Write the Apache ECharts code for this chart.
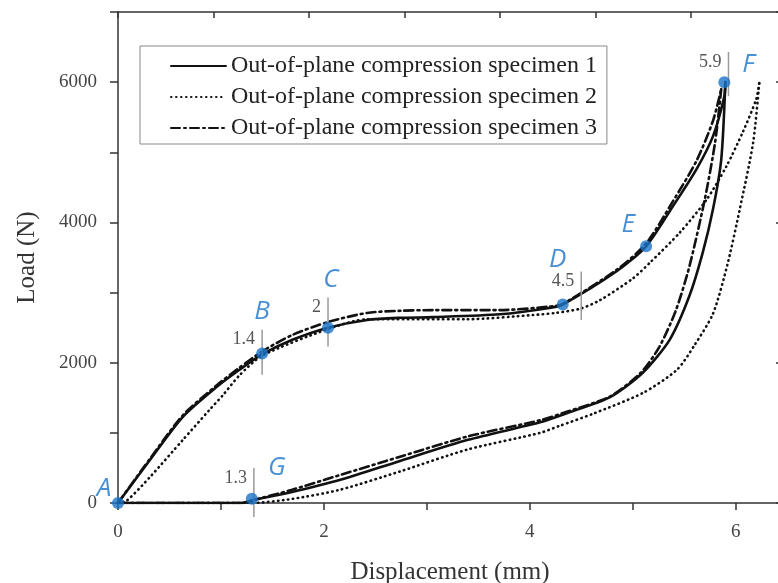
<!DOCTYPE html>
<html>
<head>
<meta charset="utf-8">
<title>Out-of-plane compression</title>
<script src="https://cdn.jsdelivr.net/npm/echarts/dist/echarts.min.js"></script>
<style>
    html, body { margin: 0; padding: 0; background: #fff; overflow: hidden; }
    #chart1 { width: 778px; height: 583px; }
</style>
</head>
<body>
<div id="chart1"></div>
<script>
// specimen curves, loading branch and unloading branch (unloading listed from x = 0 up to the peak)
var spec1LoadX = [0, 0.31, 0.63, 0.96, 1.18, 1.40, 1.70, 2.04, 2.42, 2.74, 3.06, 3.71, 4.19, 4.32, 4.84, 5.13, 5.39, 5.62, 5.78, 5.89, 5.90];
var spec1LoadY = [0, 614, 1229, 1657, 1900, 2120, 2330, 2500, 2610, 2640, 2650, 2690, 2780, 2830, 3300, 3660, 4230, 4760, 5230, 5800, 6000];
var spec1UnloadX = [0, 1.20, 1.31, 1.67, 2.16, 2.74, 3.40, 4.10, 4.36, 4.78, 5.10, 5.36, 5.55, 5.68, 5.78, 5.86, 5.90];
var spec1UnloadY = [0, 0, 40, 150, 330, 600, 900, 1150, 1280, 1510, 1860, 2330, 2950, 3570, 4190, 4900, 6000];

var spec2LoadX = [0, 0.09, 0.31, 0.63, 0.89, 1.02, 1.18, 1.40, 2.04, 2.42, 3.39, 4.03, 4.25, 4.49, 4.68, 5.00, 5.17, 5.46, 5.72, 5.91, 6.07, 6.20, 6.23];
var spec2LoadY = [0, 40, 370, 900, 1330, 1540, 1820, 2100, 2480, 2620, 2620, 2680, 2710, 2770, 2890, 3200, 3430, 3860, 4330, 4800, 5290, 5760, 6000];
var spec2UnloadX = [0, 1.30, 1.70, 2.16, 2.74, 3.39, 4.10, 4.29, 4.61, 5.10, 5.43, 5.60, 5.78, 5.92, 6.04, 6.17, 6.23];
var spec2UnloadY = [0, 0, 60, 190, 450, 760, 1000, 1100, 1270, 1570, 1900, 2250, 2700, 3400, 4190, 5140, 6000];

var spec3LoadX = [0, 0.31, 0.63, 0.96, 1.18, 1.40, 1.70, 2.04, 2.42, 2.74, 3.06, 3.71, 4.19, 4.32, 4.84, 5.13, 5.39, 5.62, 5.78, 5.86];
var spec3LoadY = [0, 630, 1250, 1680, 1930, 2160, 2400, 2580, 2710, 2740, 2750, 2750, 2800, 2840, 3320, 3700, 4300, 4880, 5450, 5900];
var spec3UnloadX = [0, 1.20, 1.31, 1.67, 2.16, 2.74, 3.40, 4.10, 4.36, 4.78, 5.08, 5.26, 5.42, 5.55, 5.70, 5.80, 5.86];
var spec3UnloadY = [0, 0, 40, 180, 400, 660, 950, 1180, 1300, 1520, 1860, 2230, 2750, 3370, 4330, 5140, 5900];

var seriesNames = ['Out-of-plane compression specimen 1', 'Out-of-plane compression specimen 2', 'Out-of-plane compression specimen 3'];

// marked points A..G
var pointName = ['A', 'B', 'C', 'D', 'E', 'F', 'G'];
var pointX = [0, 1.40, 2.04, 4.32, 5.13, 5.89, 1.30];
var pointY = [0, 2130, 2500, 2830, 3660, 6000, 60];

// short grey guide lines with their displacement values
var guideText = ['1.4', '2', '4.5', '5.9', '1.3'];
var guideX = [1.40, 2.04, 4.50, 5.93, 1.32];
var guideLow = [1830, 2230, 2610, 5800, -200];
var guideHigh = [2470, 2930, 3300, 6430, 500];

var xTicks = [0, 2, 4, 6];
var yTicks = [0, 2000, 4000, 6000];

var chart1 = echarts.init(document.getElementById('chart1'));
var serif = 'Liberation Serif';
var blue = '#1b73c9';
var letterOffset = {A: [-14, -14], B: [0, -42], C: [3, -48], D: [-5, -45], E: [-18, -22], F: [24, -18], G: [25, -31]};

function pairs(xs, ys) {
    var out = [];
    for (var i = 0; i < xs.length; i++) {
        out.push([xs[i], ys[i]]);
    }
    return out;
}

function curve(name, xs, ys, type) {
    return {
        name: name,
        type: 'line',
        data: pairs(xs, ys),
        smooth: 0.25,
        symbol: 'none',
        z: 3,
        lineStyle: {color: '#111', width: 2.6, type: type, cap: 'round'},
        itemStyle: {color: '#111'}
    };
}

var points = [];
for (var i = 0; i < pointName.length; i++) {
    points.push({
        value: [pointX[i], pointY[i]],
        name: pointName[i],
        label: {offset: letterOffset[pointName[i]]}
    });
}

var dotted = [0.5, 4.5];
var dashDot = [9, 4, 2, 4];

var option = {
    animation: false,
    backgroundColor: '#fff',
    // the frame runs a few pixels past the right edge of the picture
    grid: {left: 118, top: 12, width: 664, height: 491, containLabel: false, outerBoundsMode: 'none'},
    legend: {
        orient: 'vertical',
        left: 140,
        top: 46,
        padding: [7, 10, 3, 30],
        itemWidth: 55,
        itemHeight: 20,
        itemGap: 5,
        borderColor: '#888',
        borderWidth: 1,
        backgroundColor: '#fff',
        itemStyle: {opacity: 0},
        data: seriesNames,
        textStyle: {fontFamily: serif, fontSize: 24, color: '#222', lineHeight: 26}
    },
    xAxis: [{
        type: 'value',
        min: 0,
        max: 6.45,
        interval: 1,
        name: 'Displacement (mm)',
        nameLocation: 'middle',
        nameGap: 57,
        nameTextStyle: {fontFamily: serif, fontSize: 25, color: '#333'},
        axisLine: {lineStyle: {color: '#333', width: 1.5}},
        axisTick: {show: true, inside: false, length: 7, lineStyle: {color: '#333', width: 1.5}},
        axisLabel: {
            margin: 20,
            fontFamily: serif, fontSize: 19, color: '#444',
            formatter: function (v) { return xTicks.indexOf(v) >= 0 ? String(v) : ''; }
        },
        splitLine: {show: false}
    }, {
        type: 'value',
        position: 'top',
        min: 0,
        max: 6.95,
        interval: 1,
        axisLine: {show: true, onZero: false, lineStyle: {color: '#333', width: 1.5}},
        axisTick: {show: true, inside: true, length: 6, lineStyle: {color: '#333', width: 1.5}},
        axisLabel: {show: false},
        splitLine: {show: false}
    }],
    yAxis: [{
        type: 'value',
        min: 0,
        max: 7000,
        interval: 1000,
        name: 'Load (N)',
        nameLocation: 'middle',
        nameGap: 78,
        nameTextStyle: {fontFamily: serif, fontSize: 25, color: '#333'},
        axisLine: {show: true, lineStyle: {color: '#333', width: 1.5}},
        axisTick: {show: true, inside: false, length: 8, lineStyle: {color: '#333', width: 1.5}},
        axisLabel: {
            margin: 21,
            fontFamily: serif, fontSize: 19, color: '#444',
            formatter: function (v) { return yTicks.indexOf(v) >= 0 ? String(v) : ''; }
        },
        splitLine: {show: false}
    }, {
        type: 'value',
        position: 'right',
        min: 0,
        max: 7000,
        interval: 2000,
        axisLine: {show: true, onZero: false, lineStyle: {color: '#333', width: 1.5}},
        axisTick: {show: true, inside: true, length: 6, lineStyle: {color: '#333', width: 1.5}},
        axisLabel: {show: false},
        splitLine: {show: false}
    }],
    series: [
        curve(seriesNames[0], spec1LoadX, spec1LoadY, 'solid'),
        curve(seriesNames[0], spec1UnloadX, spec1UnloadY, 'solid'),
        curve(seriesNames[1], spec2LoadX, spec2LoadY, dotted),
        curve(seriesNames[1], spec2UnloadX, spec2UnloadY, dotted),
        curve(seriesNames[2], spec3LoadX, spec3LoadY, dashDot),
        curve(seriesNames[2], spec3UnloadX, spec3UnloadY, dashDot),
        {
            type: 'scatter',
            data: points,
            symbolSize: 12,
            clip: false,
            z: 6,
            itemStyle: {color: blue},
            label: {
                show: true,
                position: 'inside',
                formatter: '{b}',
                fontFamily: 'Open Sans',
                fontStyle: 'italic',
                fontSize: 26,
                color: blue
            }
        }
    ]
};
chart1.setOption(option);

// guide lines and their numbers, placed through the chart's own scales
function drawGuides() {
    var els = [];
    for (var i = 0; i < guideX.length; i++) {
        var top = chart1.convertToPixel({gridIndex: 0}, [guideX[i], guideHigh[i]]);
        var bot = chart1.convertToPixel({gridIndex: 0}, [guideX[i], guideLow[i]]);
        els.push({
            type: 'line',
            z: 4,
            shape: {x1: top[0], y1: top[1], x2: bot[0], y2: bot[1]},
            style: {stroke: '#999', lineWidth: 1.5}
        });
        els.push({
            type: 'text',
            z: 4,
            x: top[0] - 7,
            y: top[1] + 10,
            style: {
                text: guideText[i],
                font: '18px "' + serif + '"',
                fill: '#555',
                align: 'right',
                verticalAlign: 'middle'
            }
        });
    }
    chart1.setOption({graphic: els});
}
drawGuides();
</script>
</body>
</html>
